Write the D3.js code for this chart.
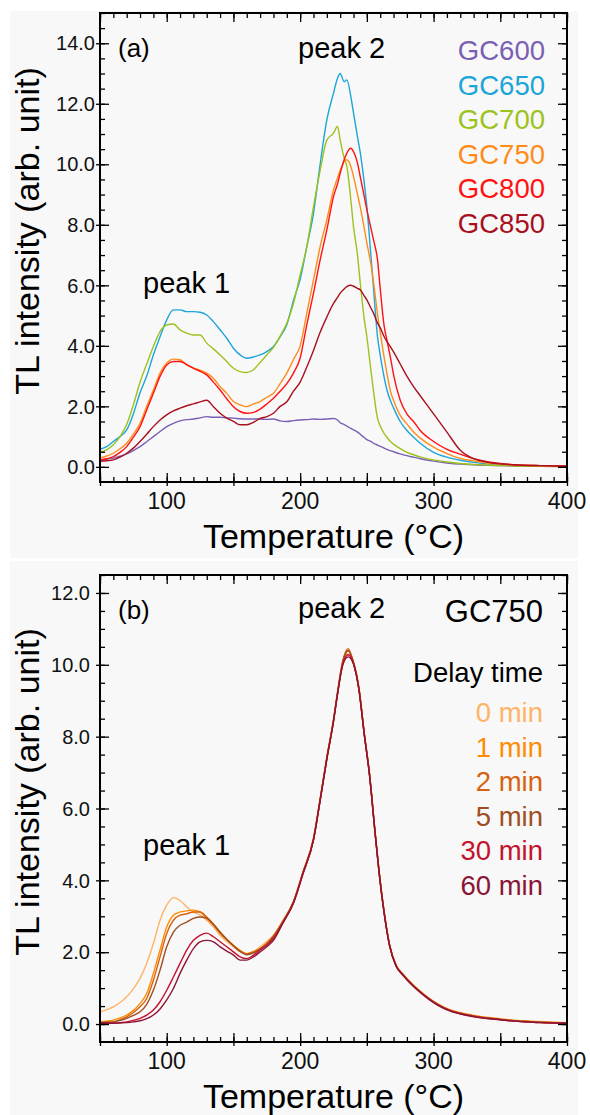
<!DOCTYPE html>
<html><head><meta charset="utf-8">
<script src="https://cdn.jsdelivr.net/npm/d3@7"></script>
<style>
html,body{margin:0;padding:0;background:#fff;}
svg{display:block;font-family:"Liberation Sans",Arial,Helvetica,sans-serif;}
</style></head>
<body>
<svg id="chart" width="590" height="1115"></svg>
<script>
// ---------- Panel (a) data ----------
const tempsA = [50,55,60,65,70,75,80,85,90,95,
  100,105,110,115,120,125,130,135,140,145,
  150,155,160,165,170,175,180,185,190,195,
  200,205,210,215,220,225,228,230,233,235,
  238,240,243,245,248,250,253,255,258,260,
  263,265,268,270,275,280,285,290,300,310,
  320,330,340,350,360,380,400];
const gc600 = [0.21,0.25,0.29,0.35,0.43,0.54,0.67,0.83,1.00,1.17,
  1.33,1.44,1.52,1.56,1.58,1.62,1.66,1.64,1.64,1.62,
  1.61,1.59,1.58,1.58,1.58,1.57,1.58,1.52,1.50,1.53,
  1.55,1.56,1.58,1.57,1.58,1.60,1.55,1.46,1.40,1.35,
  1.27,1.22,1.15,1.08,0.97,0.90,0.84,0.78,0.72,0.68,
  0.62,0.58,0.53,0.50,0.43,0.37,0.32,0.27,0.19,0.13,
  0.09,0.07,0.05,0.04,0.03,0.02,0.01];
const gc650 = [0.58,0.67,0.84,1.00,1.22,1.75,2.45,3.00,3.70,4.30,
  4.86,5.19,5.19,5.13,5.13,5.11,5.02,4.80,4.53,4.25,
  3.92,3.70,3.59,3.63,3.70,3.81,3.98,4.30,4.70,5.50,
  6.20,7.28,8.38,10.00,11.47,12.35,12.84,13.00,12.73,12.79,
  12.24,11.70,10.90,10.40,9.40,8.60,7.00,5.90,4.30,3.70,
  2.95,2.55,2.15,1.95,1.50,1.20,0.98,0.78,0.48,0.32,
  0.22,0.15,0.10,0.07,0.05,0.03,0.02];
const gc700 = [0.47,0.56,0.73,1.00,1.40,2.05,2.80,3.40,3.98,4.47,
  4.69,4.72,4.53,4.42,4.36,4.36,4.09,3.90,3.70,3.48,
  3.26,3.15,3.12,3.21,3.45,3.70,3.95,4.32,4.75,5.40,
  6.35,7.28,8.60,9.80,10.80,11.03,11.25,10.80,10.20,9.93,
  8.82,7.94,7.00,6.10,4.90,4.30,3.20,2.50,1.60,1.35,
  1.10,0.98,0.82,0.75,0.60,0.48,0.40,0.33,0.23,0.16,
  0.11,0.08,0.06,0.04,0.03,0.02,0.01];
const gc750 = [0.29,0.36,0.45,0.60,0.78,1.08,1.44,2.00,2.54,3.10,
  3.43,3.56,3.54,3.37,3.26,3.20,3.10,2.93,2.65,2.43,
  2.16,2.05,1.99,2.08,2.16,2.30,2.43,2.75,3.10,3.55,
  4.00,5.08,6.18,7.28,8.16,9.15,9.55,9.80,10.09,10.15,
  9.93,9.60,9.00,8.60,7.90,7.40,6.70,6.10,5.05,4.45,
  3.60,3.10,2.45,2.20,1.70,1.42,1.15,0.95,0.65,0.44,
  0.28,0.20,0.13,0.09,0.06,0.04,0.03];
const gc800 = [0.23,0.27,0.34,0.48,0.67,0.98,1.33,1.88,2.43,2.99,
  3.37,3.48,3.48,3.38,3.26,3.16,3.04,2.80,2.54,2.25,
  1.99,1.83,1.77,1.80,1.91,2.08,2.27,2.50,2.75,3.10,
  3.60,4.70,5.74,6.84,7.83,8.93,9.35,9.70,10.15,10.37,
  10.53,10.42,10.04,9.60,8.95,8.50,7.90,7.50,6.84,5.90,
  4.64,4.20,3.54,3.05,2.20,1.75,1.50,1.20,0.84,0.58,
  0.42,0.27,0.17,0.11,0.07,0.04,0.03];
const gc850 = [0.18,0.20,0.23,0.32,0.45,0.62,0.84,1.08,1.33,1.55,
  1.72,1.85,1.94,2.02,2.08,2.15,2.20,1.99,1.77,1.61,
  1.50,1.39,1.39,1.47,1.60,1.66,1.77,2.00,2.15,2.50,
  2.80,3.30,3.85,4.45,4.95,5.40,5.60,5.74,5.88,5.96,
  6.00,5.97,5.90,5.85,5.65,5.52,5.25,5.08,4.75,4.60,
  4.30,4.15,3.95,3.80,3.40,3.00,2.65,2.35,1.75,1.15,
  0.55,0.27,0.16,0.10,0.07,0.04,0.02];
const namesA = ["GC600","GC650","GC700","GC750","GC800","GC850"];
const colorsA = ["#7a60b4","#1ca5d8","#9cc21e","#ff8c1a","#ff1212","#a8101e"];

// ---------- Panel (b) data ----------
const tempsB = [50,55,60,65,70,75,80,85,90,95,
  100,105,110,115,120,125,130,135,140,145,
  150,155,160,165,170,175,180,187,195,202,
  210,215,220,225,228,232,236,240,244,248,
  252,256,259,263,267,272,277,284,290,296,
  302,308,314,320,334,350,360,380,400];
const d0 = [0.34,0.40,0.48,0.60,0.76,0.98,1.27,1.69,2.24,2.89,
  3.31,3.52,3.44,3.26,3.12,3.03,2.89,2.70,2.47,2.30,
  2.15,2.01,1.96,2.01,2.15,2.30,2.47,2.88,3.42,4.22,
  5.17,6.27,7.42,8.47,9.22,10.07,10.30,10.07,9.37,8.12,
  6.97,5.42,4.32,3.12,2.22,1.64,1.40,1.12,0.92,0.74,
  0.59,0.47,0.38,0.32,0.22,0.15,0.11,0.07,0.04];
const d1 = [0.06,0.08,0.11,0.17,0.25,0.38,0.57,0.85,1.41,2.06,
  2.70,3.03,3.12,3.15,3.17,3.12,2.94,2.75,2.52,2.35,
  2.19,2.05,1.96,2.02,2.10,2.25,2.45,2.86,3.41,4.22,
  5.18,6.28,7.43,8.48,9.25,10.10,10.38,10.08,9.38,8.12,
  6.97,5.43,4.32,3.12,2.21,1.63,1.39,1.11,0.91,0.73,
  0.58,0.46,0.37,0.31,0.21,0.14,0.10,0.06,0.03];
const d2 = [0.04,0.05,0.06,0.12,0.20,0.32,0.48,0.71,1.22,1.87,
  2.52,2.89,3.03,3.07,3.12,3.12,2.98,2.78,2.55,2.35,
  2.18,2.03,1.95,2.00,2.10,2.24,2.45,2.85,3.40,4.20,
  5.15,6.25,7.40,8.45,9.22,10.12,10.45,10.06,9.35,8.10,
  6.95,5.40,4.30,3.10,2.20,1.62,1.38,1.10,0.90,0.72,
  0.57,0.45,0.36,0.30,0.20,0.13,0.09,0.05,0.02];
const d5 = [0.04,0.05,0.06,0.10,0.16,0.24,0.34,0.55,0.94,1.50,
  2.15,2.56,2.75,2.84,2.94,2.98,2.94,2.78,2.56,2.36,
  2.18,2.02,1.93,1.98,2.08,2.22,2.43,2.84,3.40,4.20,
  5.14,6.24,7.40,8.45,9.20,10.08,10.40,10.05,9.35,8.10,
  6.95,5.40,4.30,3.10,2.20,1.62,1.38,1.10,0.90,0.72,
  0.57,0.45,0.36,0.30,0.20,0.13,0.09,0.05,0.02];
const d30 = [0.02,0.02,0.02,0.04,0.06,0.10,0.16,0.25,0.39,0.62,
  0.94,1.31,1.69,2.06,2.33,2.47,2.53,2.43,2.29,2.15,
  2.01,1.87,1.82,1.92,2.06,2.20,2.38,2.82,3.38,4.18,
  5.13,6.23,7.38,8.43,9.18,10.02,10.28,10.03,9.33,8.08,
  6.93,5.38,4.28,3.08,2.19,1.61,1.37,1.09,0.89,0.71,
  0.56,0.44,0.35,0.29,0.19,0.12,0.08,0.04,0.02];
const d60 = [0.02,0.02,0.02,0.03,0.04,0.06,0.09,0.15,0.25,0.42,
  0.67,0.99,1.41,1.78,2.10,2.29,2.33,2.29,2.15,2.03,
  1.92,1.78,1.78,1.87,2.01,2.15,2.33,2.80,3.36,4.16,
  5.12,6.22,7.37,8.42,9.18,10.00,10.22,10.02,9.32,8.07,
  6.92,5.37,4.27,3.07,2.18,1.60,1.36,1.08,0.88,0.70,
  0.55,0.43,0.34,0.28,0.18,0.12,0.08,0.04,0.02];
const namesB = ["0 min","1 min","2 min","5 min","30 min","60 min"];
const colorsB = ["#ffb366","#ff8c00","#d8620e","#9e4e22","#c4122c","#8c1436"];

const xTicksLabel = [100,200,300,400];
const yTicksA = [0,2,4,6,8,10,12,14];
const yTicksB = [0,2,4,6,8,10,12];

const svg = d3.select("#chart");
const FONT = '"Liberation Sans",Arial,Helvetica,sans-serif';

// backgrounds
svg.append("rect").attr("x",10).attr("y",11).attr("width",568).attr("height",547).attr("fill","#f8f8f8");
svg.append("rect").attr("x",10).attr("y",561).attr("width",568).attr("height",554).attr("fill","#f8f8f8");

function drawPanel(cfg){
  const g = svg.append("g");
  const x = d3.scaleLinear().domain([50,400]).range([cfg.left,cfg.right]);
  const y = d3.scaleLinear().domain(cfg.yDomain).range([cfg.bottom,cfg.top]);
  const xMinor = d3.range(50,401,10), xMajor = d3.range(50,401,50);
  const yMinor = d3.range(0,cfg.yDomain[1]+0.001,0.5), yMajor = d3.range(0,cfg.yDomain[1]+0.001,2);

  // clip
  const cid = "clip"+cfg.id;
  svg.append("clipPath").attr("id",cid).append("rect")
    .attr("x",cfg.left).attr("y",cfg.top).attr("width",cfg.right-cfg.left).attr("height",cfg.bottom-cfg.top);

  const line = d3.line().x(d=>x(d[0])).y(d=>y(d[1])).curve(d3.curveMonotoneX);
  const lg = g.append("g").attr("clip-path",`url(#${cid})`);
  cfg.series.forEach((s,i)=>{
    lg.append("path").datum(cfg.temps.map((t,j)=>[t,s[j]]))
      .attr("d",line).attr("fill","none").attr("stroke",cfg.colors[i])
      .attr("stroke-width",1.4).attr("stroke-linejoin","round");
  });

  function axis(gen, tr, vals, size, outer){
    const a = g.append("g").attr("transform",tr)
      .call(gen.tickValues(vals).tickSizeInner(size).tickSizeOuter(0).tickFormat(""));
    a.select(".domain").remove();
    a.selectAll("line").attr("stroke","#000").attr("stroke-width",1.3);
    return a;
  }
  // bottom
  axis(d3.axisBottom(x), `translate(0,${cfg.bottom})`, xMinor, -5);
  axis(d3.axisBottom(x), `translate(0,${cfg.bottom})`, xMajor, -9);
  axis(d3.axisBottom(x), `translate(0,${cfg.bottom})`, xMajor, 4);
  // top
  axis(d3.axisTop(x), `translate(0,${cfg.top})`, xMinor, -5);
  axis(d3.axisTop(x), `translate(0,${cfg.top})`, xMajor, -9);
  // left
  axis(d3.axisLeft(y), `translate(${cfg.left},0)`, yMinor, -5);
  axis(d3.axisLeft(y), `translate(${cfg.left},0)`, yMajor, -9);
  axis(d3.axisLeft(y), `translate(${cfg.left},0)`, yMajor, 4);
  // right
  axis(d3.axisRight(y), `translate(${cfg.right},0)`, yMinor, -5);
  axis(d3.axisRight(y), `translate(${cfg.right},0)`, yMajor, -9);

  // frame
  g.append("rect").attr("x",cfg.left).attr("y",cfg.top)
    .attr("width",cfg.right-cfg.left).attr("height",cfg.bottom-cfg.top)
    .attr("fill","none").attr("stroke","#000").attr("stroke-width",2);

  // tick labels
  g.selectAll(".xl").data(xTicksLabel).join("text")
    .attr("x",d=>x(d)).attr("y",cfg.bottom+27).attr("text-anchor","middle")
    .attr("font-size",23).attr("fill","#111").text(d=>d);
  g.selectAll(".yl").data(cfg.yTicks).join("text")
    .attr("x",cfg.left-cfg.ylOff).attr("y",d=>y(d)).attr("dy","0.36em").attr("text-anchor","end")
    .attr("font-size",20).attr("fill","#111").text(d=>d3.format(".1f")(d));

  // axis titles
  g.append("text").attr("x",(cfg.left+cfg.right)/2).attr("y",cfg.bottom+66)
    .attr("text-anchor","middle").attr("font-size",34).attr("fill","#000").text("Temperature (°C)");
  g.append("text").attr("transform",`translate(39,${cfg.yTitleY}) rotate(-90)`)
    .attr("text-anchor","middle").attr("font-size",34).attr("fill","#000").text("TL intensity (arb. unit)");

  // annotations
  g.append("text").attr("x",118).attr("y",cfg.top+44).attr("font-size",26).attr("fill","#000").text(cfg.tag);
  g.append("text").attr("x",298).attr("y",cfg.top+cfg.peak2Dy).attr("font-size",29).attr("fill","#000").text("peak 2");
  g.append("text").attr("x",143).attr("y",cfg.peak1Y).attr("font-size",29).attr("fill","#000").text("peak 1");
  return {x,y,g};
}

const pA = drawPanel({id:"a", left:100, right:567, top:13, bottom:482, yDomain:[-0.5,15],
  temps:tempsA, series:[gc600,gc650,gc700,gc750,gc800,gc850], colors:colorsA,
  yTicks:yTicksA, ylOff:5, yTitleY:231, tag:"(a)", peak2Dy:45, peak1Y:293});
// legend (a)
pA.g.selectAll(".lga").data(namesA).join("text")
  .attr("x",545).attr("y",(d,i)=>60+i*34.5).attr("text-anchor","end")
  .attr("font-size",27.5).attr("fill",(d,i)=>colorsA[i]).text(d=>d);

const pB = drawPanel({id:"b", left:100, right:567, top:575, bottom:1042, yDomain:[-0.5,12.5],
  temps:tempsB, series:[d0,d1,d2,d5,d30,d60], colors:colorsB,
  yTicks:yTicksB, ylOff:10, yTitleY:792, tag:"(b)", peak2Dy:43, peak1Y:855});
pB.g.append("text").attr("x",543).attr("y",622).attr("text-anchor","end")
  .attr("font-size",31).attr("fill","#000").text("GC750");
pB.g.append("text").attr("x",543).attr("y",682).attr("text-anchor","end")
  .attr("font-size",27.5).attr("fill","#000").text("Delay time");
pB.g.selectAll(".lgb").data(namesB).join("text")
  .attr("x",543).attr("y",(d,i)=>722+i*34.6).attr("text-anchor","end")
  .attr("font-size",27.5).attr("fill",(d,i)=>colorsB[i]).text(d=>d);
</script>
</body></html>
